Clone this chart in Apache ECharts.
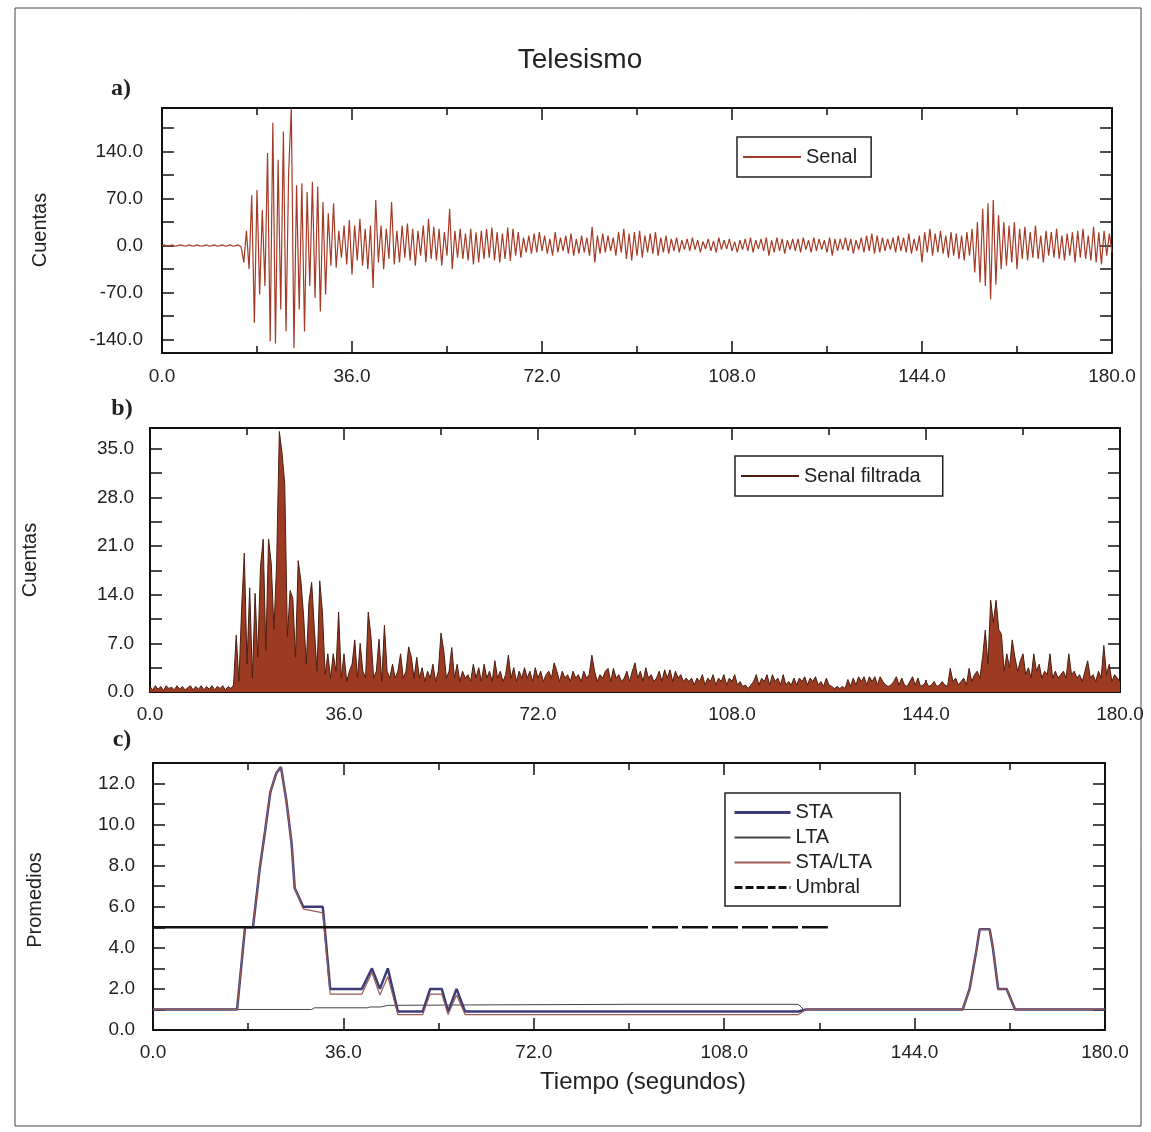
<!DOCTYPE html>
<html>
<head>
<meta charset="utf-8">
<script src="https://cdn.jsdelivr.net/npm/echarts@6/dist/echarts.min.js"></script>
<style>
  html, body { margin: 0; padding: 0; background: #fff; }
  #chart { width: 1151px; height: 1132px; }
</style>
</head>
<body>
<div id="chart"></div>
<script>
const sampleStep = 0.5
const signal = [
  0, 1, -1, 0, 1, -1, 0, 1, 0, -1, 1, 0, -1, 1, 0, -1, 0, 1, -1, 0,
  1, -1, 0, 1, -1, 0, 1, -1, 0, 1, -2, -25, 22, -35, 75, -115, 83, -73, 53, -60,
  138, -143, 183, -146, 128, -95, 170, -128, 110, 205, -153, 90, -95, 93, -128, 80, -60, 95, -78, 88,
  -98, 65, -73, 48, -30, 63, -33, 22, -18, 30, -28, 38, -43, 30, -22, 40, -30, 25, -35, 30,
  -63, 68, -25, 30, -35, 25, -20, 65, -28, 22, -25, 30, -18, 33, -22, 25, -30, 22, -15, 30,
  -25, 40, -20, 28, -22, 25, -30, 20, -15, 55, -35, 22, -18, 25, -20, 18, -22, 25, -28, 20,
  -25, 22, -20, 25, -18, 27, -22, 20, -25, 18, -20, 27, -23, 25, -15, 20, -18, 12, -10, 15,
  -12, 18, -10, 20, -8, 15, -12, 10, -15, 20, -10, 12, -8, 15, -12, 18, -15, 10, -12, 15,
  -10, 12, -15, 28, -25, 15, -12, 18, -10, 15, -8, 12, -15, 20, -10, 25, -20, 18, -22, 20,
  -15, 22, -18, 15, -10, 18, -12, 20, -15, 12, -10, 15, -12, 10, -8, 12, -10, 8, -6, 10,
  -8, 12, -6, 8, -10, 6, -5, 10, -8, 7, -10, 12, -6, 8, -5, 10, -8, 6, -10, 8,
  -6, 10, -8, 12, -10, 8, -5, 10, -8, 12, -15, 8, -10, 12, -8, 10, -12, 8, -6, 10,
  -8, 10, -10, 12, -6, 8, -10, 12, -8, 10, -6, 8, -10, 12, -15, 10, -8, 10, -6, 12,
  -8, 10, -12, 8, -6, 12, -10, 15, -8, 18, -12, 15, -10, 12, -8, 10, -6, 12, -10, 15,
  -8, 12, -10, 18, -12, 10, -8, 15, -25, 20, -10, 25, -15, 18, -10, 22, -12, 15, -18, 20,
  -15, 18, -20, 15, -22, 20, -15, 25, -40, 35, -55, 55, -60, 63, -80, 68, -58, 45, -35, 35,
  -30, 30, -25, 35, -35, 25, -20, 28, -22, 20, -18, 30, -20, 15, -25, 22, -15, 20, -18, 25,
  -20, 15, -22, 18, -15, 20, -25, 22, -18, 25, -20, 15, -22, 28, -25, 20, -28, 22, -15, 18,
  -10
]
const filtered = [
  0.8, 0.3, 0.9, 0.4, 0.8, 0.2, 0.9, 0.5, 0.7, 0.3, 0.9, 0.4, 0.8, 0.3, 0.6, 0.9, 0.3, 0.8, 0.4, 0.9,
  0.3, 0.8, 0.4, 0.9, 0.3, 0.8, 0.5, 0.9, 0.3, 0.8, 0.5, 1.0, 8.2, 1.5, 12, 20, 4, 15, 2, 14.2,
  5, 18, 22, 6, 22, 18.5, 9, 18.5, 37.5, 34.4, 30, 8, 14.6, 13.5, 5, 18.9, 16, 11, 4, 13,
  15.8, 9, 3, 16, 11.5, 2.5, 5.5, 2, 5.5, 3, 11.5, 2, 5.5, 1.5, 3, 4, 7.5, 2, 7, 3,
  2, 11.5, 8, 2, 3, 7.6, 1.5, 9.6, 3, 2, 4, 2, 3, 5.5, 2, 3, 6.5, 5, 2, 5,
  2, 3.5, 1.5, 3, 2, 4, 1.5, 3, 8.5, 6, 2, 3, 6.4, 2, 4, 1.5, 3, 2, 2.5, 1.5,
  4, 2, 3.5, 1.5, 4, 2, 3, 1.5, 4.5, 2, 3, 1.5, 2.5, 5.3, 2, 3.5, 1.5, 3, 2, 3.5,
  2, 3, 1.5, 3.5, 2, 3, 1.5, 2.5, 3, 2, 4.2, 3, 1.5, 3, 2, 2.5, 1.5, 3, 2, 2.5,
  1.5, 3, 2, 2.5, 5.3, 3, 1.5, 2.5, 2, 3, 3.4, 1.5, 3.4, 2, 2.5, 1.5, 2, 3, 1.5, 3,
  4.2, 2, 3, 1.5, 3.5, 2, 2.5, 1.5, 2, 3, 1.5, 3.2, 2, 3.2, 1.5, 3, 2, 2.5, 1.5, 2,
  1.5, 2, 1, 2, 1.5, 2.5, 1, 2, 1.5, 2.5, 1, 2, 1.5, 2.5, 1, 2, 1.5, 2.5, 1, 1.5,
  0.8, 1, 0.5, 1, 1.5, 2.5, 1, 2, 1.5, 2.5, 1, 2.5, 1.5, 2, 1, 2.5, 1, 1.5, 1, 2,
  1, 2, 1.5, 2.2, 1, 2, 1.5, 2.2, 1, 1.5, 0.8, 2, 1, 0.8, 0.5, 0.8, 0.5, 0.8, 0.5, 1.8,
  0.8, 2, 1, 2.2, 1.5, 2.2, 1, 2.2, 1.5, 2.2, 1, 2.2, 1.5, 1, 0.8, 1, 1.5, 2.2, 1, 2,
  1, 0.8, 1.5, 2.2, 1, 2, 0.8, 1, 1.5, 0.8, 1, 1.5, 0.8, 1, 1.5, 1, 0.8, 3.4, 1.5, 2,
  1, 1.5, 2, 1, 3.4, 1.5, 2.5, 3, 2, 5, 8.9, 4, 13.2, 10, 13.2, 9, 8.3, 3, 5.5, 3.5,
  7.5, 5, 3, 4.5, 5.5, 2.5, 3.5, 2, 5.5, 3, 4, 2, 3, 2.5, 5.5, 2, 3, 2, 2.5, 3,
  2, 5.5, 2.5, 3, 2, 2.5, 1.5, 3, 4.5, 2, 2.5, 1.5, 3, 2, 6.7, 2.5, 4, 1.5, 2.5, 2,
  1.5
]

// promedios (panel c)
const staTimes = [0, 15.9, 17.4, 18.9, 20.2, 21.2, 22.2, 23.3, 24.2, 25.2, 26.2, 26.8, 28.4, 32.1, 33.5, 39.5, 41.4, 42.9, 44.4, 46.3, 51, 52.4, 54.6, 55.8, 57.4, 59, 122, 123.5, 153.1, 154.4, 155.7, 156.3, 158.2, 158.8, 159.8, 161.4, 163, 180]
const staValues = [1, 1, 5, 5, 7.9, 9.7, 11.6, 12.5, 12.8, 11.2, 9.1, 6.9, 6.0, 6.0, 2.0, 2.0, 3.0, 2.0, 3.0, 0.9, 0.9, 2.0, 2.0, 0.9, 2.0, 0.9, 0.9, 1.0, 1.0, 2.0, 3.9, 4.9, 4.9, 4.0, 2.0, 2.0, 1.0, 1.0]
const ratioValues = [1, 1, 5, 5, 7.9, 9.7, 11.6, 12.5, 12.8, 11.2, 9.1, 6.9, 5.9, 5.7, 1.75, 1.75, 2.8, 1.7, 2.6, 0.75, 0.75, 1.75, 1.75, 0.75, 1.7, 0.75, 0.75, 1.0, 1.0, 2.0, 3.9, 4.9, 4.9, 4.0, 2.0, 2.0, 1.0, 1.0]
const ltaTimes = [0, 30, 30.5, 40.5, 41, 43, 44.5, 60, 90, 122, 123, 180]
const ltaValues = [1, 1, 1.08, 1.08, 1.12, 1.12, 1.2, 1.22, 1.25, 1.25, 1.0, 1.0]
const umbralTimes = [0, 127.6]
const umbralValues = [5, 5]

const ticksA = [-140, -105, -70, -35, 0, 35, 70, 105, 140, 175]
const labelsA = [-140, -70, 0, 70, 140]
const ticksB = [0, 3.5, 7, 10.5, 14, 17.5, 21, 24.5, 28, 31.5, 35]
const labelsB = [0, 7, 14, 21, 28, 35]
const ticksC = [0, 1, 2, 3, 4, 5, 6, 7, 8, 9, 10, 11, 12]
const labelsC = [0, 2, 4, 6, 8, 10, 12]

const font = "'Liberation Sans', Arial, Helvetica, sans-serif"
const ink = '#111'

const pairs = (ts, vs) => ts.map((t, i) => [t, vs[i]])

function xAxis(gridIndex, position, margin) {
  return {
    type: 'value', gridIndex, position, min: 0, max: 180, interval: 36,
    axisLine: { show: true, onZero: false, lineStyle: { color: ink, width: 2 } },
    axisTick: { show: true, inside: true, length: 12, lineStyle: { color: ink, width: 1.5 } },
    minorTick: { show: true, splitNumber: 2, length: 7, lineStyle: { color: ink, width: 1.5 } },
    axisLabel: {
      show: position === 'bottom', margin, fontSize: 19, color: '#222', fontFamily: font,
      formatter: (v) => v.toFixed(1),
    },
    splitLine: { show: false },
    minorSplitLine: { show: false },
  }
}

function yAxis(gridIndex, position, min, max, ticks, labels, margin) {
  return {
    type: 'value', gridIndex, position, min, max,
    axisLine: { show: true, onZero: false, lineStyle: { color: ink, width: 2 } },
    axisTick: { show: true, inside: true, length: 12, customValues: ticks, lineStyle: { color: ink, width: 1.5 } },
    axisLabel: {
      show: position === 'left', margin, fontSize: 19, color: '#222', fontFamily: font,
      customValues: labels, formatter: (v) => v.toFixed(1),
    },
    splitLine: { show: false },
  }
}

function text(x, y, str, size, extra) {
  return {
    type: 'text', x, y, z: 10,
    style: Object.assign({ text: str, font: `${size}px ${font}`, fill: '#222', textAlign: 'center', textVerticalAlign: 'middle' }, extra || {}),
  }
}

const legendBase = {
  borderColor: '#222', borderWidth: 1.5, selectedMode: false, itemWidth: 58, itemHeight: 14,
  itemStyle: { opacity: 0 },
  textStyle: { fontSize: 20, lineHeight: 22, color: '#222', fontFamily: font },
}

const chart = echarts.init(document.getElementById('chart'))
chart.setOption({
  animation: false,
  backgroundColor: '#fff',
  grid: [
    { left: 162, top: 108, width: 950, height: 245 },
    { left: 150, top: 428, width: 970, height: 264 },
    { left: 153, top: 763, width: 952, height: 267 },
  ],
  xAxis: [
    xAxis(0, 'bottom', 14), xAxis(0, 'top', 0),
    xAxis(1, 'bottom', 13), xAxis(1, 'top', 0),
    xAxis(2, 'bottom', 13), xAxis(2, 'top', 0),
  ],
  yAxis: [
    yAxis(0, 'left', -160, 205, ticksA, labelsA, 19), yAxis(0, 'right', -160, 205, ticksA, labelsA, 0),
    yAxis(1, 'left', 0, 38, ticksB, labelsB, 16), yAxis(1, 'right', 0, 38, ticksB, labelsB, 0),
    yAxis(2, 'left', 0, 13, ticksC, labelsC, 18), yAxis(2, 'right', 0, 13, ticksC, labelsC, 0),
  ],
  legend: [
    Object.assign({}, legendBase, { data: ['Senal'], left: 737, top: 137, padding: [9, 14, 9, 5] }),
    Object.assign({}, legendBase, { data: ['Senal filtrada'], left: 735, top: 456, padding: [9, 22, 9, 5] }),
    Object.assign({}, legendBase, {
      data: [
        { name: 'STA', lineStyle: { width: 3 } },
        'LTA',
        'STA/LTA',
        { name: 'Umbral', lineStyle: { type: [8, 3], width: 3, color: '#111' } },
      ],
      left: 725, top: 793, orient: 'vertical', padding: [9, 28, 8, 8], itemGap: 4, itemWidth: 56,
      textStyle: { fontSize: 20, lineHeight: 21, color: '#222', fontFamily: font },
    }),
  ],
  series: [
    {
      name: 'Senal', type: 'line', xAxisIndex: 0, yAxisIndex: 0, symbol: 'none',
      data: signal.map((v, i) => [i * sampleStep, v]),
      lineStyle: { color: '#a53a26', width: 1.2 }, itemStyle: { color: '#a53a26' },
    },
    {
      name: 'Senal filtrada', type: 'line', xAxisIndex: 2, yAxisIndex: 2, symbol: 'none',
      data: filtered.map((v, i) => [i * sampleStep, v]),
      lineStyle: { color: '#4a1e12', width: 1 }, itemStyle: { color: '#4a1e12' },
      areaStyle: { color: '#9c3b22', opacity: 1 },
    },
    {
      name: 'LTA', type: 'line', xAxisIndex: 4, yAxisIndex: 4, symbol: 'none',
      data: pairs(ltaTimes, ltaValues),
      lineStyle: { color: '#444', width: 1 }, itemStyle: { color: '#444' },
    },
    {
      name: 'STA', type: 'line', xAxisIndex: 4, yAxisIndex: 4, symbol: 'none',
      data: pairs(staTimes, staValues),
      lineStyle: { color: '#3d3c7a', width: 2.5 }, itemStyle: { color: '#3d3c7a' },
    },
    {
      name: 'STA/LTA', type: 'line', xAxisIndex: 4, yAxisIndex: 4, symbol: 'none',
      data: pairs(staTimes, ratioValues),
      lineStyle: { color: '#9a5a52', width: 1.2 }, itemStyle: { color: '#9a5a52' },
    },
    {
      name: 'Umbral', type: 'line', xAxisIndex: 4, yAxisIndex: 4, symbol: 'none',
      data: pairs(umbralTimes, umbralValues),
      lineStyle: { color: '#111', width: 2.5, type: [495, 4, 26, 4, 26, 4, 26, 4, 26, 4, 26, 4, 26, 4, 26, 4] },
      itemStyle: { color: '#111' },
    },
  ],
  graphic: [
    { type: 'rect', shape: { x: 15, y: 8, width: 1126, height: 1118 }, style: { fill: 'none', stroke: '#444', lineWidth: 1 } },
    text(580, 60, 'Telesismo', 28),
    text(121, 89, 'a)', 24, { font: "bold 24px 'Liberation Serif', serif" }),
    text(122, 409, 'b)', 24, { font: "bold 24px 'Liberation Serif', serif" }),
    text(122, 740, 'c)', 24, { font: "bold 24px 'Liberation Serif', serif" }),
    Object.assign(text(0, 0, 'Cuentas', 20), { x: 40, y: 230, rotation: Math.PI / 2 }),
    Object.assign(text(0, 0, 'Cuentas', 20), { x: 30, y: 560, rotation: Math.PI / 2 }),
    Object.assign(text(0, 0, 'Promedios', 20), { x: 35, y: 900, rotation: Math.PI / 2 }),
    text(643, 1082, 'Tiempo (segundos)', 24),
  ],
})
</script>
</body>
</html>
